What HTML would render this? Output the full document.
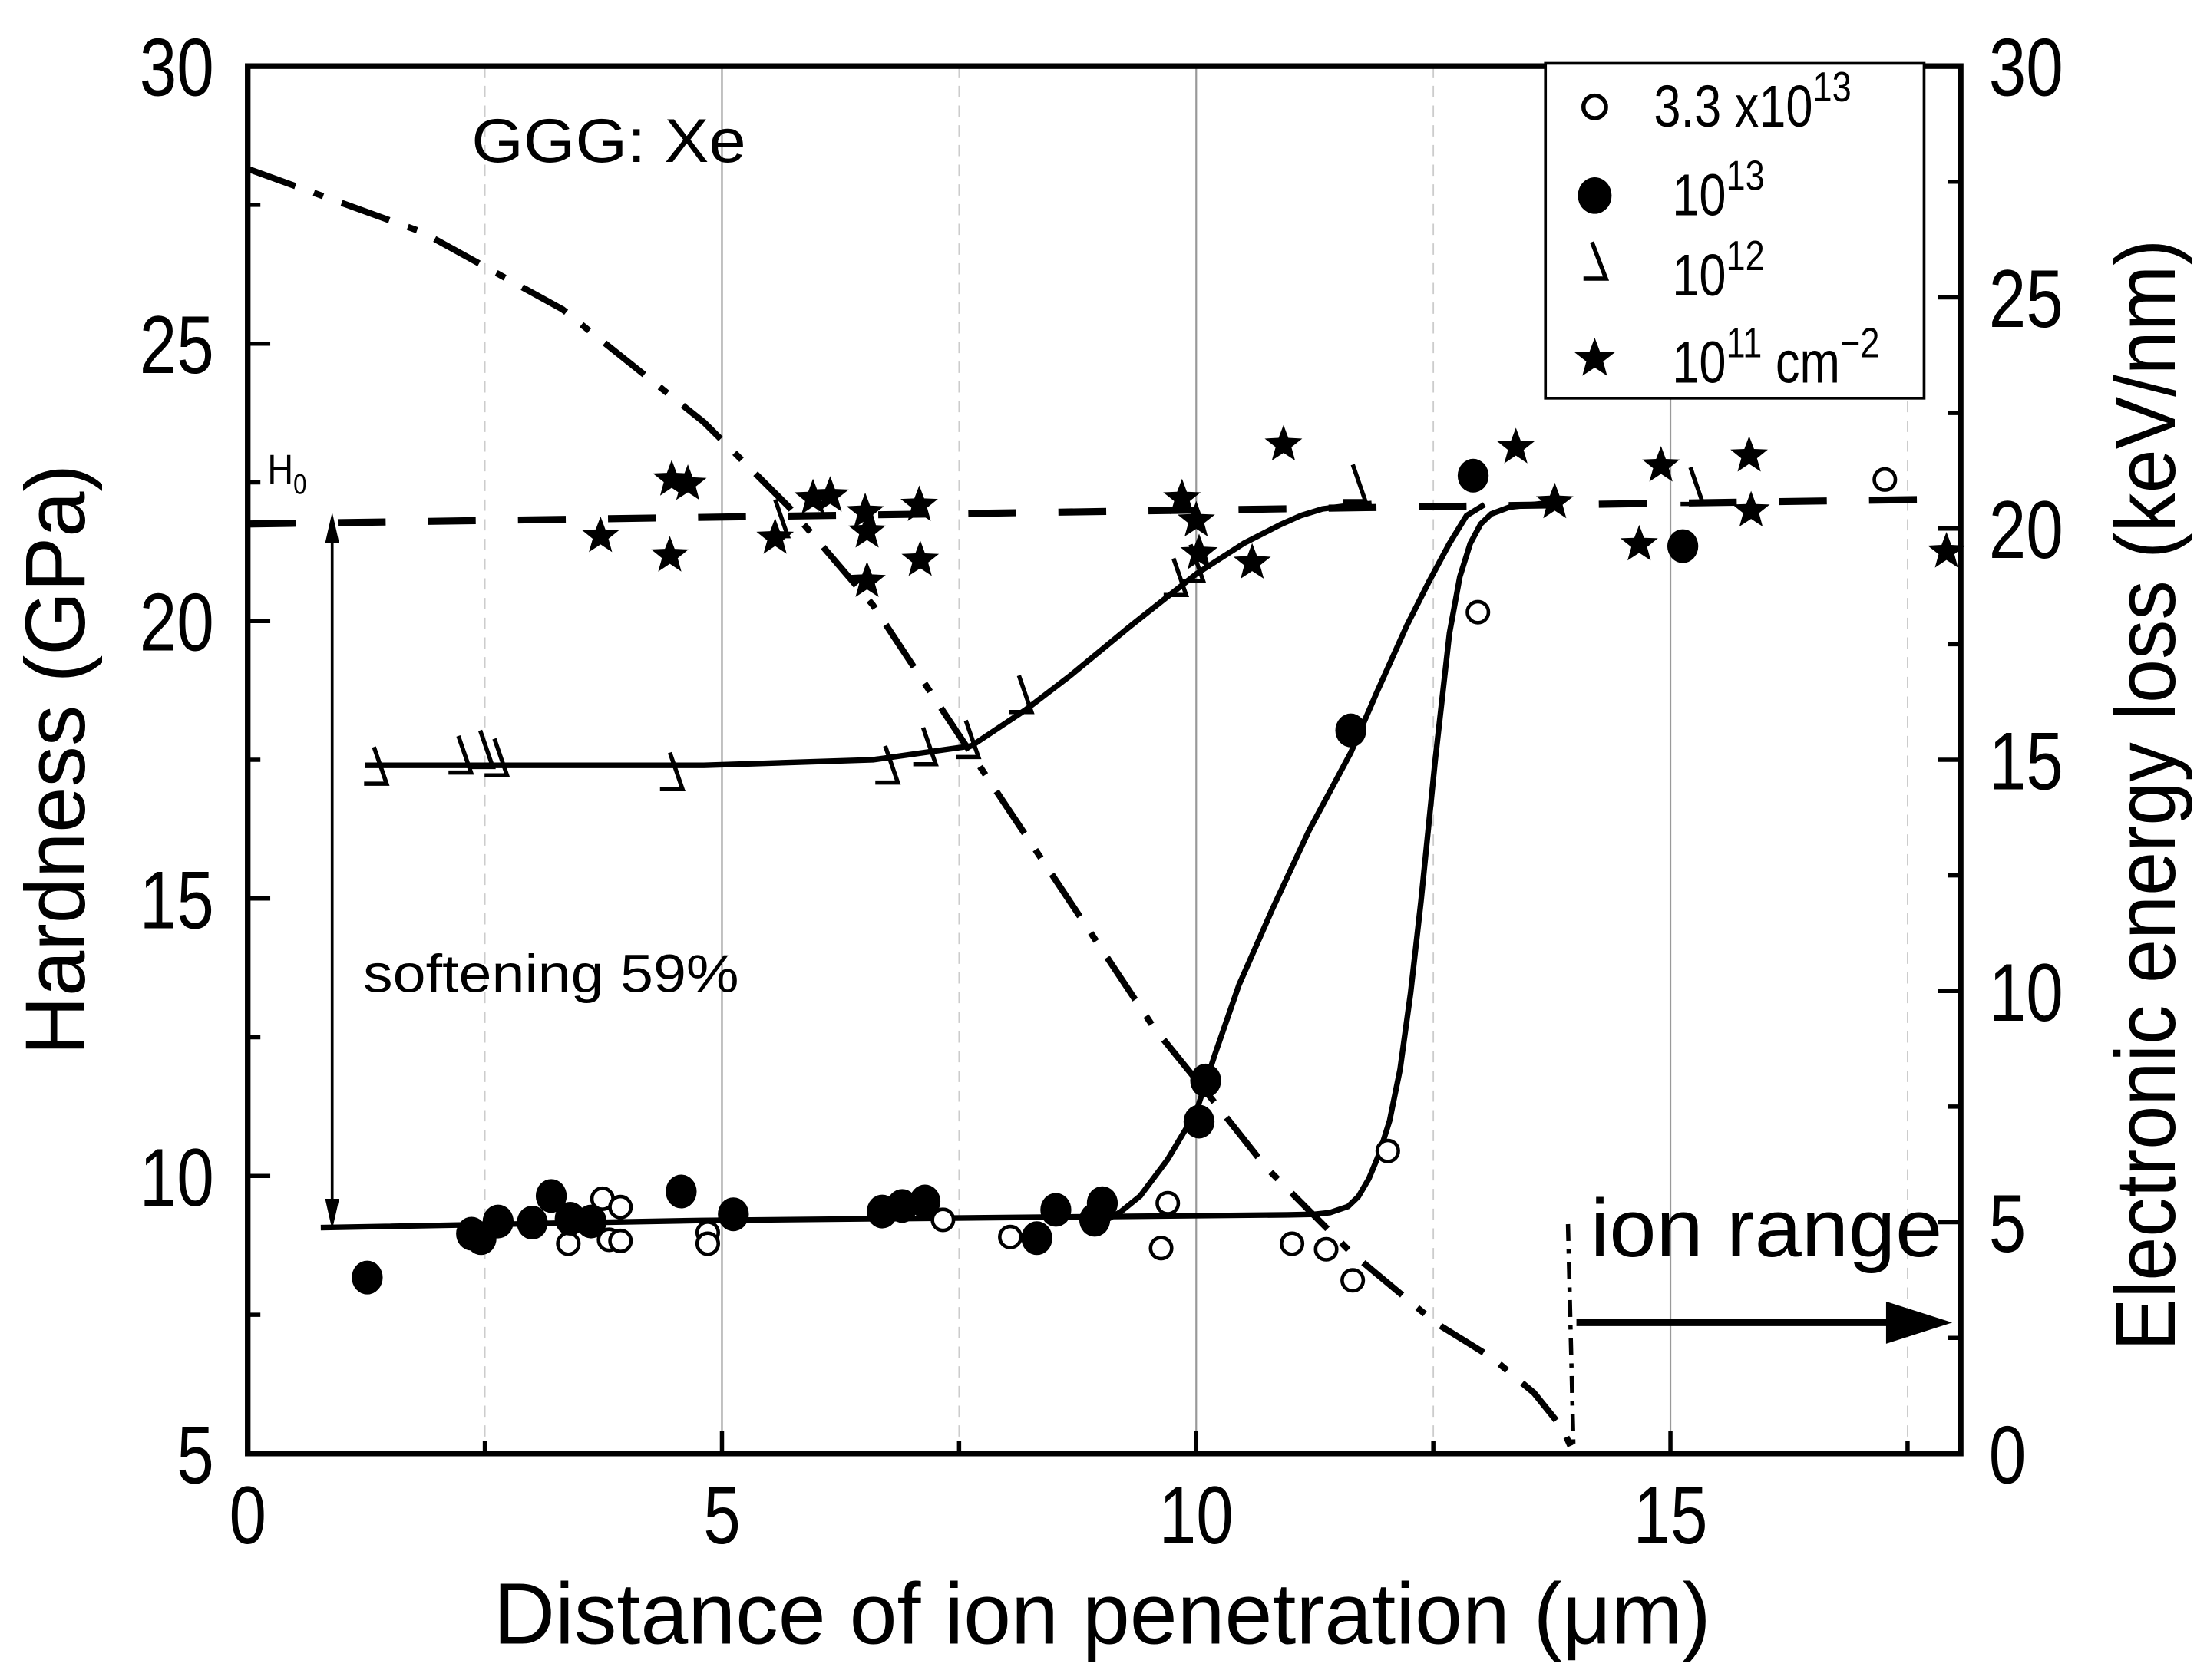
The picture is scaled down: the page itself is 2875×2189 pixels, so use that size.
<!DOCTYPE html>
<html><head><meta charset="utf-8"><style>
html,body{margin:0;padding:0;background:#fff;}
svg{display:block;font-family:"Liberation Sans",sans-serif;}
</style></head><body>
<svg id="chart" width="2875" height="2189" viewBox="0 0 1568 1194" preserveAspectRatio="none" xmlns="http://www.w3.org/2000/svg">
<g id="grid"></g>
<g id="curves"></g>
<g id="marks"></g>
<g id="axes"></g>
<text x="335" y="115" font-size="44" textLength="195" lengthAdjust="spacingAndGlyphs">GGG: Xe</text>
<text transform="translate(190,344) scale(0.85,1)" font-size="30">H<tspan font-size="20" dy="7">0</tspan></text>
<text x="258" y="705" font-size="38" textLength="267" lengthAdjust="spacingAndGlyphs">softening 59%</text>
<text x="1130" y="893" font-size="58" textLength="250" lengthAdjust="spacingAndGlyphs">ion range</text>
<g stroke="#000" stroke-width="2" fill="#000">
<line x1="236" y1="372" x2="236" y2="868"/>
<path d="M236 364 L231 386 L241 386 Z" stroke="none"/>
<path d="M236 874 L231 852 L241 852 Z" stroke="none"/>
</g>
<g>
<line x1="1120" y1="940" x2="1345" y2="940" stroke="#000" stroke-width="5"/>
<path d="M1387 940 L1340 925 L1340 955 Z" fill="#000"/>
</g>
<g>
<rect x="1098" y="45" width="269" height="238" fill="#fff" stroke="#000" stroke-width="2"/>
<circle cx="1133" cy="76" r="8" fill="none" stroke="#000" stroke-width="3"/>
<text transform="translate(1175,90) scale(0.82,1)" font-size="42">3.3 x10<tspan font-size="30" dy="-18">13</tspan></text>
<ellipse cx="1133" cy="139" rx="12" ry="13" fill="#000"/>
<text transform="translate(1188,153) scale(0.82,1)" font-size="42">10<tspan font-size="30" dy="-18">13</tspan></text>
<path d="M1131 172 L1141 198 L1125 198" fill="none" stroke="#000" stroke-width="3"/>
<text transform="translate(1188,210) scale(0.82,1)" font-size="42">10<tspan font-size="30" dy="-18">12</tspan></text>
<g id="legstar"></g>
<text transform="translate(1188,272) scale(0.82,1)" font-size="42">10<tspan font-size="30" dy="-18">11</tspan><tspan dy="18"> cm</tspan><tspan font-size="30" dy="-18">−2</tspan></text>
</g>
<text x="0" y="0" transform="translate(60,540) rotate(-90)" text-anchor="middle" font-size="60" textLength="420" lengthAdjust="spacingAndGlyphs">Hardness (GPa)</text>
<text x="0" y="0" transform="translate(1545,565) rotate(-90)" text-anchor="middle" font-size="60" textLength="790" lengthAdjust="spacingAndGlyphs">Electronic energy loss (keV/nm)</text>
<text x="783" y="1168" text-anchor="middle" font-size="62" textLength="865" lengthAdjust="spacingAndGlyphs">Distance of ion penetration (μm)</text>
</svg>
<script>
// ---- data ----
const openX = [3.38,3.74,3.81,3.93,3.93,4.85,4.85,7.33,8.04,9.63,9.70,11.01,11.37,11.65,12.02,12.97,17.26];
const openH = [8.78,9.59,8.85,9.44,8.83,8.98,8.78,9.21,8.90,8.70,9.51,8.78,8.68,8.12,10.45,20.16,22.55];
const fillX = [1.26,2.36,2.46,2.64,3.00,3.20,3.40,3.62,4.57,5.12,6.69,6.90,7.14,8.32,8.52,8.93,9.01,10.03,10.10,11.63,12.92,15.13];
const fillH = [8.17,8.96,8.88,9.18,9.16,9.64,9.23,9.18,9.72,9.31,9.36,9.46,9.54,8.88,9.39,9.21,9.51,10.98,11.72,18.03,22.62,21.35];
const cornX = [1.39,2.28,2.51,2.66,4.51,5.62,6.78,7.18,7.63,8.19,9.82,10.0,11.71,15.27];
const cornH = [17.4,17.6,17.7,17.55,17.3,21.86,17.42,17.75,17.88,18.69,20.8,21.05,22.49,22.44];
const starX = [3.72,4.47,4.45,4.64,5.56,5.96,6.14,6.51,6.53,6.53,7.08,7.09,9.85,10.0,10.03,10.59,10.92,13.37,13.78,14.67,14.90,15.83,15.85,17.91];
const starH = [21.53,22.55,21.18,22.47,21.50,22.21,22.26,21.96,21.61,20.72,22.09,21.10,22.21,21.81,21.22,21.05,23.18,23.13,22.14,21.38,22.80,22.98,21.99,21.25];
const fit12X = [1.24,4.81,6.59,7.63,8.2,8.66,9.3,10.0,10.5,10.89,11.1,11.33,11.6,11.85];
const fit12H = [17.4,17.4,17.5,17.75,18.4,19.0,19.9,20.85,21.4,21.74,21.9,22.02,22.08,22.12];
const fit13X = [8.89,9.2,9.41,9.7,10.0,10.2,10.45,10.8,11.19,11.63,11.9,12.22,12.45,12.67,12.85,13.04];
const fit13H = [9.05,9.35,9.64,10.3,11.16,12.2,13.44,14.8,16.23,17.63,18.7,19.92,20.7,21.4,21.9,22.1];
const fitLowX = [0.77,4.78,10.96];
const fitLowH = [9.07,9.2,9.3];
const fitOpenX = [10.96,11.25,11.41,11.6,11.71,11.82,11.93,12.04,12.15,12.26,12.37,12.52,12.67,12.78,12.89,13.0,13.11,13.3,13.71];
const fitOpenH = [9.3,9.31,9.34,9.45,9.63,9.95,10.4,11.0,11.92,13.3,14.96,17.5,19.78,20.8,21.4,21.75,21.93,22.05,22.13];
const dashX = [0,18.06];
const dashH = [21.75,22.2];
const seX = [0,1.84,3.32,4.81,5.70,6.59,7.18,7.77,8.66,9.55,10.15,10.74,11.63,12.52,13.12,13.56,13.86,13.98];
const seE = [27.78,26.41,24.74,22.30,20.48,18.35,16.52,14.70,11.96,9.22,7.70,6.18,4.35,2.83,2.07,1.31,0.55,0];
const xTicks = [0,5,10,15];
const yTicks = [5,10,15,20,25,30];
const y2Ticks = [0,5,10,15,20,25,30];
// ---- scales ----
const L=176,R=1393,T=47,B=1033;
const X=v=>L+(R-L)*v/18.06;
const Y=h=>B-(B-T)*(h-5)/25;
const Y2=e=>B-(B-T)*e/30;
const NS="http://www.w3.org/2000/svg";
function mk(parent,tag,attrs){const el=document.createElementNS(NS,tag);for(const k in attrs)el.setAttribute(k,attrs[k]);document.getElementById(parent).appendChild(el);return el;}
// grid
[2.5,7.5,12.5,17.5].forEach(v=>{const l=mk('grid','line',{x1:X(v),x2:X(v),y1:T,y2:B,stroke:'#ccc','stroke-width':1,'stroke-dasharray':'8 6'});

});
[5,10,15].forEach(v=>{const l=mk('grid','line',{x1:X(v),x2:X(v),y1:T,y2:B,stroke:'#999','stroke-width':1.2});

});
// curves
function path(xs,ys,f){return xs.map((x,i)=>(i?'L':'M')+X(x).toFixed(1)+' '+f(ys[i]).toFixed(1)).join(' ');}
function curve(xs,ys,f,name,extra){const p=mk('curves','path',Object.assign({d:path(xs,ys,f),fill:'none',stroke:'#000','stroke-width':4,'stroke-linejoin':'round'},extra||{}));

}
curve(dashX,dashH,Y,'reference-hardness-line',{'stroke-dasharray':'34 30','stroke-width':5});
curve(seX,seE,Y2,'energy-loss-curve',{'stroke-dasharray':'36 14 7 14','stroke-width':4.5});
curve(fit12X,fit12H,Y,'fit-1e12');
curve(fit13X,fit13H,Y,'fit-1e13');
curve(fitLowX,fitLowH,Y,'fit-low-plateau');
curve(fitOpenX,fitOpenH,Y,'fit-3.3e13');
const ir=mk('curves','line',{x1:1114,y1:870,x2:1118,y2:1033,stroke:'#000','stroke-width':3,'stroke-dasharray':'12 6 3 6'});


// markers
openX.forEach((x,i)=>{const c=mk('marks','circle',{cx:X(x),cy:Y(openH[i]),r:7.5,fill:'#fff',stroke:'#000','stroke-width':2.5});

});
fillX.forEach((x,i)=>{const c=mk('marks','ellipse',{cx:X(x),cy:Y(fillH[i]),rx:11,ry:12,fill:'#000'});

});
cornX.forEach((x,i)=>{const cx=X(x),cy=Y(cornH[i]);const p=mk('marks','path',{d:`M${cx-4} ${cy-13} L${cx+5} ${cy+13} L${cx-11} ${cy+13}`,fill:'none',stroke:'#000','stroke-width':3});

});
function starD(cx,cy,r){let d='';for(let k=0;k<10;k++){const a=-Math.PI/2+k*Math.PI/5;const rr=k%2?r*0.42:r;d+=(k?'L':'M')+(cx+rr*Math.cos(a)).toFixed(1)+' '+(cy+rr*Math.sin(a)).toFixed(1);}return d+'Z';}
starX.forEach((x,i)=>{const p=mk('marks','path',{d:starD(X(x),Y(starH[i]),14),fill:'#000'});

});
const ls=mk('legstar','path',{d:starD(1133,255,15),fill:'#000'});
// axes
mk('axes','rect',{x:L,y:T,width:R-L,height:B-T,fill:'none',stroke:'#000','stroke-width':4});
function lab(x,y,txt,anchor,name){const t=mk('axes','text',{transform:`translate(${x},${y}) scale(0.82,1)`,'text-anchor':anchor,'font-size':58});t.textContent=txt;

}
xTicks.forEach(v=>{mk('axes','line',{x1:X(v),x2:X(v),y1:B,y2:B-16,stroke:'#000','stroke-width':3});
lab(X(v),B+64,v,'middle','x-tick-label');});
[2.5,7.5,12.5,17.5].forEach(v=>mk('axes','line',{x1:X(v),x2:X(v),y1:B,y2:B-9,stroke:'#000','stroke-width':3}));
yTicks.forEach(v=>{mk('axes','line',{x1:L,x2:L+16,y1:Y(v),y2:Y(v),stroke:'#000','stroke-width':3});
lab(L-24,Y(v)+21,v,'end','y-tick-label');});
[7.5,12.5,17.5,22.5,27.5].forEach(v=>mk('axes','line',{x1:L,x2:L+9,y1:Y(v),y2:Y(v),stroke:'#000','stroke-width':3}));
y2Ticks.forEach(v=>{mk('axes','line',{x1:R,x2:R-16,y1:Y2(v),y2:Y2(v),stroke:'#000','stroke-width':3});
lab(R+20,Y2(v)+21,v,'start','y2-tick-label');});
[2.5,7.5,12.5,17.5,22.5,27.5].forEach(v=>mk('axes','line',{x1:R,x2:R-9,y1:Y2(v),y2:Y2(v),stroke:'#000','stroke-width':3}));
</script>
</body></html>
